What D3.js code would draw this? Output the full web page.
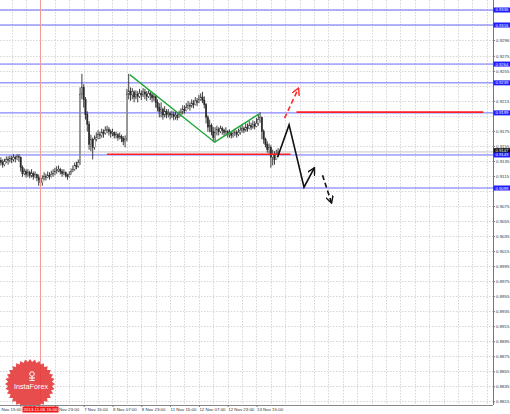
<!DOCTYPE html>
<html><head><meta charset="utf-8">
<script src="https://cdn.jsdelivr.net/npm/d3@7"></script>
<style>html,body{margin:0;padding:0;background:#fff;overflow:hidden}svg{display:block}</style>
</head><body><svg id="c" width="510" height="414"></svg>
<script>
// ---- Data (H1 bars) ----
const opens=[.9136,.9133,.9130,.9134,.9137,.9136,.9138,.9137,.9140,.9138,
.9141,.9140,.9126,.9118,.9121,.9117,.9120,.9116,.9118,.9114,
.9117,.9113,.9110,.9106,.9112,.9114,.9113,.9116,.9114,.9117,
.9118,.9121,.9122,.9124,.9121,.9118,.9120,.9116,.9114,.9117,
.9121,.9124,.9129,.9128,.9133,.9224,.9233,.9217,.9197,.9184,
.9157,.9164,.9153,.9164,.9166,.9170,.9169,.9173,.9172,.9176,
.9177,.9174,.9172,.9173,.9169,.9170,.9166,.9168,.9165,.9161,
.9164,.9224,.9228,.9223,.9227,.9220,.9224,.9221,.9225,.9223,
.9227,.9224,.9221,.9225,.9223,.9219,.9221,.9213,.9206,.9201,
.9204,.9196,.9201,.9197,.9198,.9196,.9197,.9194,.9196,.9193,
.9197,.9200,.9204,.9202,.9206,.9209,.9208,.9212,.9210,.9215,
.9213,.9217,.9220,.9216,.9210,.9193,.9180,.9182,.9174,.9166,
.9173,.9177,.9174,.9178,.9176,.9173,.9174,.9170,.9172,.9169,
.9172,.9173,.9170,.9173,.9176,.9178,.9176,.9180,.9178,.9182,
.9180,.9184,.9181,.9185,.9190,.9193,.9174,.9164,.9157,.9150,
.9153,.9140,.9144,.9137,.9145];
const highs=[.9140,.9137,.9138,.9141,.9141,.9142,.9142,.9144,.9142,.9144,
.9144,.9141,.9129,.9125,.9124,.9124,.9122,.9124,.9121,.9121,
.9118,.9117,.9114,.9116,.9120,.9118,.9121,.9120,.9122,.9124,
.9126,.9128,.9129,.9126,.9124,.9124,.9121,.9118,.9121,.9125,
.9129,.9133,.9134,.9137,.9233,.9251,.9237,.9220,.9201,.9188,
.9170,.9166,.9169,.9173,.9176,.9174,.9178,.9177,.9181,.9182,
.9180,.9177,.9178,.9174,.9174,.9172,.9173,.9170,.9168,.9169,
.9231,.9251,.9233,.9232,.9229,.9229,.9228,.9231,.9229,.9232,
.9231,.9228,.9229,.9228,.9225,.9225,.9223,.9217,.9212,.9213,
.9206,.9208,.9204,.9204,.9201,.9202,.9201,.9201,.9200,.9202,
.9205,.9209,.9209,.9212,.9215,.9213,.9217,.9216,.9220,.9219,
.9223,.9225,.9227,.9221,.9212,.9196,.9190,.9185,.9180,.9180,
.9182,.9180,.9182,.9181,.9178,.9180,.9176,.9177,.9174,.9176,
.9178,.9176,.9178,.9181,.9184,.9181,.9185,.9185,.9188,.9186,
.9189,.9188,.9192,.9197,.9200,.9194,.9177,.9166,.9161,.9158,
.9156,.9150,.9148,.9150,.9152];
const lows=[.9129,.9126,.9128,.9132,.9130,.9133,.9132,.9134,.9133,.9136,
.9134,.9121,.9114,.9116,.9113,.9114,.9112,.9113,.9110,.9112,
.9108,.9102,.9100,.9102,.9109,.9109,.9112,.9110,.9113,.9114,
.9116,.9118,.9120,.9117,.9114,.9116,.9113,.9110,.9113,.9117,
.9120,.9122,.9124,.9126,.9130,.9217,.9206,.9190,.9174,.9150,
.9148,.9137,.9150,.9161,.9164,.9164,.9166,.9166,.9170,.9172,
.9169,.9166,.9168,.9165,.9165,.9162,.9164,.9160,.9156,.9153,
.9161,.9217,.9215,.9217,.9213,.9217,.9213,.9219,.9216,.9220,
.9217,.9215,.9219,.9216,.9213,.9215,.9206,.9201,.9193,.9193,
.9190,.9193,.9192,.9193,.9190,.9192,.9189,.9190,.9189,.9192,
.9194,.9197,.9198,.9201,.9204,.9202,.9206,.9205,.9209,.9208,
.9212,.9215,.9212,.9205,.9185,.9174,.9173,.9169,.9160,.9160,
.9169,.9169,.9172,.9170,.9168,.9169,.9166,.9166,.9165,.9166,
.9168,.9166,.9168,.9170,.9173,.9172,.9174,.9174,.9177,.9176,
.9178,.9177,.9180,.9182,.9186,.9164,.9158,.9153,.9146,.9144,
.9126,.9129,.9130,.9137,.9141];
const closes=[.9133,.9130,.9134,.9137,.9136,.9138,.9137,.9140,.9138,.9141,
.9140,.9126,.9118,.9121,.9117,.9120,.9116,.9118,.9114,.9117,
.9113,.9110,.9106,.9112,.9114,.9113,.9116,.9114,.9117,.9118,
.9121,.9122,.9124,.9121,.9118,.9120,.9116,.9114,.9117,.9121,
.9124,.9129,.9128,.9133,.9224,.9233,.9217,.9197,.9184,.9157,
.9164,.9153,.9164,.9166,.9170,.9169,.9173,.9172,.9176,.9177,
.9174,.9172,.9173,.9169,.9170,.9166,.9168,.9165,.9161,.9164,
.9224,.9228,.9223,.9227,.9220,.9224,.9221,.9225,.9223,.9227,
.9224,.9221,.9225,.9223,.9219,.9221,.9213,.9206,.9201,.9204,
.9196,.9201,.9197,.9198,.9196,.9197,.9194,.9196,.9193,.9197,
.9200,.9204,.9202,.9206,.9209,.9208,.9212,.9210,.9215,.9213,
.9217,.9220,.9216,.9210,.9193,.9180,.9182,.9174,.9166,.9173,
.9177,.9174,.9178,.9176,.9173,.9174,.9170,.9172,.9169,.9172,
.9173,.9170,.9173,.9176,.9178,.9176,.9180,.9178,.9182,.9180,
.9184,.9181,.9185,.9190,.9193,.9174,.9164,.9157,.9150,.9153,
.9140,.9144,.9137,.9145,.9147];

// grid price levels (all) and the tick labels that are visible in the picture
const gridPrices=[0.9336,0.9316,0.9296,0.9275,0.9255,0.9235,0.9215,0.9195,0.9175,0.9155,0.9135,0.9115,0.9095,0.9075,0.9055,0.9035,0.9015,0.8995,0.8975,0.8955,0.8935,0.8915,0.8895,0.8875,0.8855,0.8835,0.8815];
const priceTickLabels=[0.9296,0.9275,0.9255,0.9215,0.9175,0.9155,0.9135,0.9115,0.9075,0.9055,0.9035,0.9015,0.8995,0.8975,0.8955,0.8935,0.8915,0.8895,0.8875,0.8855,0.8835,0.8815];
const levelLines=[0.9336,0.9316,0.9264,0.9239,0.9199,0.9143,0.9099];
const gridTimeIdx=[-2,6,14,22,30,38,46,54,62,70,78,86,94,102,110,118,126,134,142,150,158,166,174,182,190,198,206,214,222,230,238,246,254,262,270];
const timeTickIdx=[-2,30,46,62,78,94,110,126,142];
const timeTickLabels=["5 Nov 15:00","6 Nov 23:00","7 Nov 15:00","8 Nov 07:00","8 Nov 23:00","11 Nov 15:00","12 Nov 07:00","12 Nov 23:00","13 Nov 15:00"];
const markerIdx=22, markerLabel="2013.11.06 15:00";
const currentPrice=0.9147;
const greenTrend=[[71.6,0.9250],[118.8,0.9160],[143.7,0.9198]];
const redSupport=[[58.9,0.9144],[160.9,0.9144]];
const redResistance=[[164.2,0.9200],[268.0,0.9200]];
const blackPath=[[153.7,0.9140],[160.1,0.9183],[168.4,0.9100],[174.2,0.9126]];
const blackDashed=[[178.7,0.9116],[183.7,0.9079]];
const redDashed=[[157.6,0.9192],[165.4,0.9232]];

// ---- Layout ----
const plotR=493, plotB=405;
const svg=d3.select("#c");
const x=d3.scaleLinear().domain([-0.5,273.4]).range([0,plotR]);
const y=d3.scaleLinear().domain([0.88101,0.93493]).range([plotB,0]);
const FONT="Liberation Sans, Arial, sans-serif";

svg.append("rect").attr("width",510).attr("height",414).attr("fill","#fff");

// grid
const grid=svg.append("g").attr("stroke","#cbcbcb").attr("stroke-width",0.8).attr("stroke-dasharray","1.5,1.5");
grid.selectAll("line.h").data(gridPrices).join("line")
  .attr("x1",0).attr("x2",plotR).attr("y1",d=>Math.round(y(d))+0.5).attr("y2",d=>Math.round(y(d))+0.5);
grid.selectAll("line.v").data(gridTimeIdx).join("line")
  .attr("y1",0).attr("y2",plotB).attr("x1",d=>Math.round(x(d))+0.5).attr("x2",d=>Math.round(x(d))+0.5);

// current price line
svg.append("line").attr("x1",0).attr("x2",plotR).attr("y1",y(currentPrice)).attr("y2",y(currentPrice))
  .attr("stroke","#c4c4c4").attr("stroke-width",1);

// blue levels
svg.append("g").selectAll("line").data(levelLines).join("line")
  .attr("x1",0).attr("x2",plotR).attr("y1",d=>y(d)).attr("y2",d=>y(d))
  .attr("stroke","#6a6aff").attr("stroke-width",1);

// candles
const idx=d3.range(closes.length);
const cg=svg.append("g");
cg.selectAll("line").data(idx).join("line")
  .attr("x1",i=>x(i)).attr("x2",i=>x(i)).attr("y1",i=>y(highs[i])).attr("y2",i=>y(lows[i]))
  .attr("stroke","#2a2a2a").attr("stroke-width",0.9);
cg.selectAll("rect").data(idx).join("rect")
  .attr("x",i=>x(i)-0.7).attr("width",1.4)
  .attr("y",i=>y(Math.max(opens[i],closes[i])))
  .attr("height",i=>Math.max(0.8,Math.abs(y(opens[i])-y(closes[i]))))
  .attr("fill",i=>closes[i]>=opens[i]?"#fff":"#2a2a2a")
  .attr("stroke","#2a2a2a").attr("stroke-width",0.4);

const line=d3.line().x(d=>x(d[0])).y(d=>y(d[1]));

// red horizontal lines
[redSupport,redResistance].forEach(p=>svg.append("path").attr("d",line(p))
  .attr("stroke","#ff1f1f").attr("stroke-width",1.6).attr("fill","none"));

// green trend
svg.append("path").attr("d",line(greenTrend)).attr("stroke","#22a83a").attr("stroke-width",1.4).attr("fill","none");

// arrow markers
const defs=svg.append("defs");
function mk(id,color){
  defs.append("marker").attr("id",id).attr("viewBox","0 0 10 10").attr("refX",9).attr("refY",5)
    .attr("markerWidth",8).attr("markerHeight",8).attr("markerUnits","userSpaceOnUse").attr("orient","auto")
    .append("path").attr("d","M0,0 L9,5 L0,10").attr("fill","none").attr("stroke",color).attr("stroke-width",1.8);
}
mk("ab","#111"); mk("ar","#ff2a2a");

svg.append("path").attr("d",line(blackPath)).attr("stroke","#111").attr("stroke-width",1.6).attr("fill","none")
  .attr("stroke-linejoin","miter").attr("marker-end","url(#ab)");
svg.append("path").attr("d",line(blackDashed)).attr("stroke","#111").attr("stroke-width",1.6).attr("fill","none")
  .attr("stroke-dasharray","5,3").attr("marker-end","url(#ab)");
svg.append("path").attr("d",line(redDashed)).attr("stroke","#ff2a2a").attr("stroke-width",1.6).attr("fill","none")
  .attr("stroke-dasharray","5,3").attr("marker-end","url(#ar)");

// red vertical marker line
svg.append("line").attr("x1",x(markerIdx)).attr("x2",x(markerIdx)).attr("y1",0).attr("y2",plotB)
  .attr("stroke","#f19a9a").attr("stroke-width",1);

// logo (decoration)
const lg=svg.append("g").attr("transform","translate(30,384)");
const teeth=d3.range(64).map(k=>[k*Math.PI*2/64,k%2?22:25]);
lg.append("path").attr("d",d3.lineRadial().angle(d=>d[0]).radius(d=>d[1]).curve(d3.curveLinearClosed)(teeth))
  .attr("fill","#e63a3a").attr("opacity",0.9);
lg.append("circle").attr("cx",2).attr("cy",-10).attr("r",2.3).attr("fill","none").attr("stroke","#fff").attr("stroke-width",1);
lg.append("path").attr("d","M-1,-6 L5,-6 M2,-7.7 L2,-3.5 M-0.5,-3.5 L4.5,-3.5").attr("stroke","#fff").attr("stroke-width",1);
lg.append("text").attr("x",1).attr("y",5).attr("text-anchor","middle").attr("fill","#fff")
  .attr("font-family",FONT).attr("font-size",7.2).text("InstaForex");

// axes
const ya=svg.append("g").attr("transform",`translate(${plotR},0)`)
  .call(d3.axisRight(y).tickValues(priceTickLabels).tickFormat(d3.format(".4f")).tickSize(2).tickPadding(1));
ya.select(".domain").attr("stroke","#777").attr("d",`M0.5,0V${plotB}`);
ya.selectAll("text").attr("font-family",FONT).attr("font-size",4.4).attr("fill","#333");
ya.selectAll(".tick line").attr("stroke","#777");

const xa=svg.append("g").attr("transform",`translate(0,${plotB})`)
  .call(d3.axisBottom(x).tickValues(timeTickIdx).tickFormat((d,i)=>timeTickLabels[i]).tickSize(2).tickPadding(1));
xa.select(".domain").attr("stroke","#888").attr("d",`M0,0.5H${plotR}`);
xa.selectAll("text").attr("font-family",FONT).attr("font-size",4.4).attr("fill","#333").attr("text-anchor","start");
xa.selectAll(".tick line").attr("stroke","#777");

// marker label
const mx=x(markerIdx);
svg.append("rect").attr("x",mx-18).attr("y",406.5).attr("width",36).attr("height",6).attr("fill","#f01818");
svg.append("text").attr("x",mx).attr("y",411.2).attr("text-anchor","middle").attr("fill","#fff")
  .attr("font-family",FONT).attr("font-size",4.4).text(markerLabel);

// current price label (nudged up slightly so it sits just above the 0.9143 box)
const cpy=y(currentPrice)-1.2;
svg.append("rect").attr("x",plotR+0.5).attr("y",cpy-2.6).attr("width",17).attr("height",5).attr("fill","#111");
svg.append("text").attr("x",plotR+2.5).attr("y",cpy+1.5).attr("fill","#fff")
  .attr("font-family",FONT).attr("font-size",4.2).text(d3.format(".4f")(currentPrice));

// level labels
const ll=svg.append("g").selectAll("g").data(levelLines).join("g");
ll.append("rect").attr("x",plotR+0.5).attr("y",d=>y(d)-2.5).attr("width",17).attr("height",5).attr("fill","#1c1cff");
ll.append("text").attr("x",plotR+2.5).attr("y",d=>y(d)+1.5).attr("fill","#fff")
  .attr("font-family",FONT).attr("font-size",4.2).text(d=>d3.format(".4f")(d));
</script></body></html>
